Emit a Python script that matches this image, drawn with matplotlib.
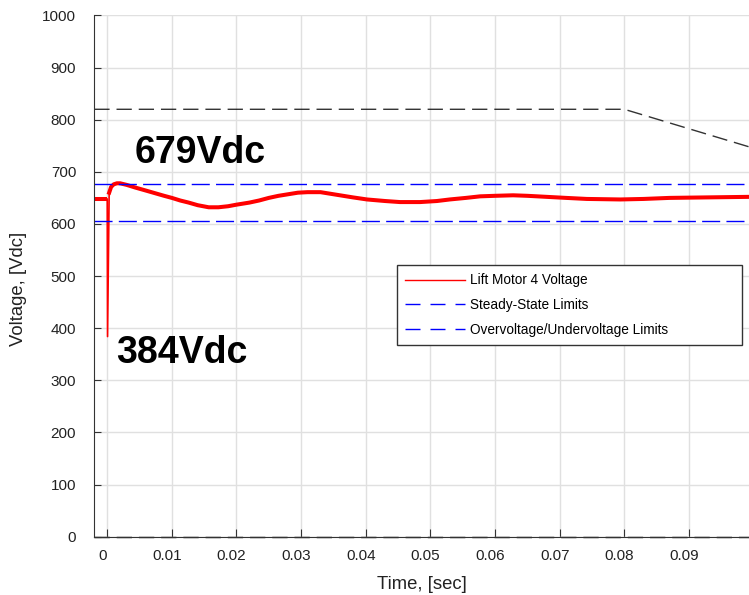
import numpy as np
import matplotlib.pyplot as plt
import matplotlib.transforms as mtransforms
from matplotlib.lines import Line2D

plt.rcParams['font.family'] = ['Liberation Sans', 'DejaVu Sans']

# lift motor 4 bus voltage
t = [-0.002, -0.0002, 0.0, 0.00005, 0.0003, 0.0006, 0.001, 0.0015, 0.002, 0.003,
     0.0043, 0.006, 0.0074, 0.0088, 0.010, 0.0113, 0.0126, 0.014, 0.0157, 0.0172,
     0.0187, 0.020, 0.022, 0.0235, 0.025, 0.0265, 0.028, 0.0295, 0.031, 0.033,
     0.0345, 0.036, 0.038, 0.0402, 0.043, 0.0453, 0.0484, 0.051, 0.053, 0.0555,
     0.0577, 0.060, 0.0628, 0.065, 0.068, 0.071, 0.0742, 0.0794, 0.083, 0.087,
     0.093, 0.0993]
v = [648, 648, 648, 384, 660, 671, 676, 678, 678, 675,
     670, 664, 659, 654, 650, 645, 641, 636, 632, 632,
     634, 637, 641, 645, 650, 654, 657, 660, 661, 661,
     658, 655, 651, 647, 644, 642, 642, 644, 647, 650,
     653, 654, 655, 654, 652, 650, 648, 647, 648, 650,
     651, 652]

ss_upper = 677
ss_lower = 605
ov_t = [-0.002, 0.08, 0.0993]
ov_v = [820, 820, 748]
uv_t = [-0.002, 0.0993]
uv_v = [0, 0]

fig = plt.figure(figsize=(7.49, 5.95), dpi=100)
ax = fig.add_axes([0.1259, 0.098, 0.8741, 0.876])

# thin spike at the switch-on, thick trace elsewhere
ax.plot(t[1:5], v[1:5], color='red', lw=1.2)
ax.plot(t[:3], v[:3], color='red', lw=2.9, solid_capstyle='butt')
ax.plot(t[4:], v[4:], color='red', lw=2.9)
ax.plot([-0.002, 0.0993], [ss_upper, ss_upper], color='blue', lw=1, dashes=(13, 4.5))
ax.plot([-0.002, 0.0993], [ss_lower, ss_lower], color='blue', lw=1, dashes=(13, 4.5))
ax.plot(ov_t, ov_v, color='k', lw=1, dashes=(11, 5), alpha=0.8)
ax.plot(uv_t, uv_v, color='k', lw=1, dashes=(11, 5), clip_on=False)

ax.text(0.0043, 717, '679Vdc', fontsize=27, fontweight='bold')
ax.text(0.00135, 333, '384Vdc', fontsize=27, fontweight='bold')

ax.set_xlim(-0.002, 0.0993)
ax.set_ylim(0, 1000)
ax.set_xticks(np.arange(0, 0.095, 0.01))
ax.set_xticklabels(['0', '0.01', '0.02', '0.03', '0.04', '0.05', '0.06', '0.07', '0.08', '0.09'])
ax.set_yticks(np.arange(0, 1001, 100))
ax.grid(True, color='#e0e0e0', lw=1)
ax.set_axisbelow(True)
for s in ['top', 'right']:
    ax.spines[s].set_visible(False)
ax.spines['left'].set_color('#333333')
ax.spines['bottom'].set_color('#333333')
ax.tick_params(axis='x', direction='in', length=6, pad=9, labelsize=11, colors='#333333')
ax.tick_params(axis='y', direction='in', length=5, pad=13, labelsize=11, colors='#333333')
# x tick labels sit a little left of their ticks in the original
shift = mtransforms.ScaledTranslation(-5 / 100, 0, fig.dpi_scale_trans)
for lab in ax.get_xticklabels():
    lab.set_transform(lab.get_transform() + shift)
for lab in ax.get_xticklabels() + ax.get_yticklabels():
    lab.set_color('#222222')

ax.set_xlabel('Time, [sec]', fontsize=13.3, color='#222222', labelpad=9.5)
ax.set_ylabel('Voltage, [Vdc]', fontsize=13.3, color='#222222')
ax.yaxis.set_label_coords(-0.103, 0.475)

handles = [Line2D([], [], color='red', lw=1),
           Line2D([], [], color='blue', lw=1, dashes=(10.8, 7.2)),
           Line2D([], [], color='blue', lw=1, dashes=(10.8, 7.2))]
labels = ['Lift Motor 4 Voltage', 'Steady-State Limits', 'Overvoltage/Undervoltage Limits']
leg = ax.legend(handles, labels, loc='upper left', mode='expand',
                bbox_to_anchor=(0.4623, 0.364, 0.527, 0.157),
                fontsize=9.8, handlelength=4.4, handletextpad=0.4, fancybox=False,
                framealpha=1, edgecolor='#333333', borderpad=0.6, labelspacing=0.8,
                borderaxespad=0)
leg.get_frame().set_linewidth(1)

fig.savefig('out.png', dpi=100)
